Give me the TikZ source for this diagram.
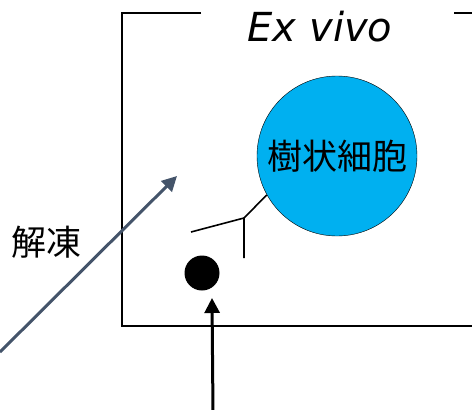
\documentclass[tikz,border=0pt]{standalone}
\usepackage{fontspec}
\setmainfont{DejaVu Sans}
\newfontfamily\cjkfont{Noto Sans CJK JP}
\usepackage{xcolor}
\usetikzlibrary{positioning,arrows.meta}
\definecolor{cellblue}{HTML}{00B0F0}
\definecolor{slategray}{HTML}{44546A}
\tikzset{
  frame/.style={line width=2pt},
  dendrite/.style={line width=1.6pt},
  bigarrow/.style={line width=3pt,-{Triangle[length=15pt,width=15pt]}}
}

\begin{document}
\begin{tikzpicture}[x=1pt,y=-1pt]
        \useasboundingbox (0,0) rectangle (472,410);
        % box
        \draw[frame] (201,13) -- (122,13) -- (122,326) -- (472,326);
        \draw[frame] (454,13) -- (472,13);
        \node (title) at (320,27) {\fontsize{40}{48}\selectfont\itshape Ex vivo};
        % cells
        \node[circle,draw,thin,fill=cellblue,minimum size=160pt,inner sep=0pt] (cell) at (337,156)
            {\fontsize{35}{42}\selectfont\cjkfont 樹状細胞};
        \node[circle,fill=black,minimum size=35pt,inner sep=0pt] (dot) at (202,273) {};
        \coordinate (fork) at (244,218);
        \coordinate (armleft) at (191,232);
        \coordinate (armdown) at (244,258);
        \draw[dendrite] (armleft) -- (fork) -- (armdown);
        \draw[dendrite] (fork) -- (cell.209);
        % arrows
        \node (thaw) at (47,242) {\fontsize{35}{42}\selectfont\cjkfont 解凍};
        \coordinate (thawstart) at (0,352);
        \coordinate (thawend) at (177,176);
        \draw[bigarrow,slategray] (thawstart) -- (thawend);
        \coordinate (feed) at (213,412);
        \coordinate (feedtip) at (212,298);
        \draw[bigarrow] (feed) -- (feedtip);
\end{tikzpicture}
\end{document}
